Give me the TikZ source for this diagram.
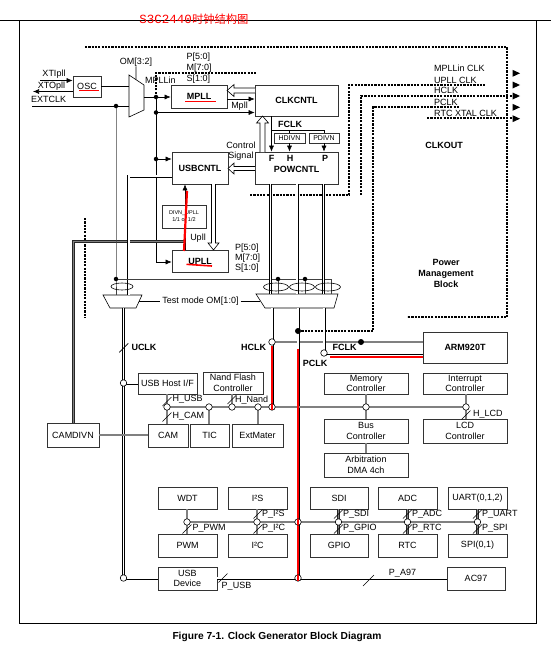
\documentclass[tikz,border=0pt]{standalone}
\usepackage{fontspec}
\setmainfont{Liberation Sans}
\newfontfamily\cjkfont{Noto Sans CJK SC}
\newfontfamily\titlemono{Liberation Mono}
\usetikzlibrary{arrows.meta,calc}
\begin{document}
\begin{tikzpicture}[x=1pt,y=-1pt,
  box/.style={draw=black!80, line width=0.7pt, fill=white, inner sep=0pt, align=center, font=\fontsize{9}{10.5}\selectfont},
  bbox/.style={box, font=\fontsize{9}{10.5}\selectfont\bfseries},
  lbl/.style={inner sep=0pt, align=center, font=\fontsize{9}{10.5}\selectfont},
  blbl/.style={inner sep=0pt, align=center, font=\fontsize{9}{10.7}\selectfont\bfseries},
  wire/.style={draw=black, line width=0.6pt},
  arr/.style={wire, -{Latex[length=6pt,width=5pt]}},
  gbus/.style={draw=black!85, line width=0.7pt, double=black!50, double distance=1.5pt},
  wbus/.style={draw=black, line width=0.7pt, double=white, double distance=1.6pt},
  pmdash/.style={draw=black, line width=1.1pt, dash pattern=on 2.2pt off 1.1pt},
  redl/.style={draw=red, line width=2pt},
  hol/.style={draw=black, line width=0.6pt, fill=white},
  hole/.style={circle, draw=black, fill=white, line width=0.6pt, inner sep=0pt, minimum size=6.5pt},
  jdot/.style={circle, fill=black, inner sep=0pt, minimum size=4.5pt},
  bigdot/.style={circle, fill=black, inner sep=0pt, minimum size=6pt},
  tickm/.style={draw=black, line width=0.6pt},
  frame/.style={draw=black, line width=0.8pt},
]
\useasboundingbox (0,0) rectangle (551,648);

% frame and title
\draw[frame] (0,20.5) -- (551,20.5);
\draw[frame] (19.5,20.5) -- (19.5,623) -- (536,623) -- (536,20.5);
\node[text=red, inner sep=0pt] (title) at (194,19.5) {\fontsize{12.5}{12}\titlemono S3C2440\fontsize{11.3}{12}\cjkfont 时钟结构图};
\node[font=\fontsize{10.2}{12}\selectfont\bfseries, inner sep=0pt] (cap) at (277,636.5) {Figure 7-1. Clock Generator Block Diagram};

% boxes
\node[box, minimum width=28pt, minimum height=21pt] (osc) at (87,86.5) {OSC};
\node[bbox, minimum width=56pt, minimum height=23pt] (mpll) at (199,96.5) {MPLL};
\node[bbox, minimum width=83pt, minimum height=31pt] (clkcntl) at (296.5,100.5) {CLKCNTL};
\node[box, font=\fontsize{7}{8}\selectfont, minimum width=31pt, minimum height=10pt] (hdivn) at (289.5,138) {HDIVN};
\node[box, font=\fontsize{7}{8}\selectfont, minimum width=30pt, minimum height=10pt] (pdivn) at (324,138) {PDIVN};
\node[box, minimum width=83pt, minimum height=32pt] (powcntl) at (296.5,168) {};
\node[bbox, minimum width=56pt, minimum height=32pt] (usbcntl) at (200,168) {USBCNTL};
\node[box, font=\fontsize{5.5}{7}\selectfont, minimum width=44pt, minimum height=23pt] (divn) at (184,216.5) {DIVN\_UPLL\\1/1 or 1/2};
\node[bbox, minimum width=56pt, minimum height=22pt] (upll) at (200,261) {UPLL};
\node[bbox, minimum width=84pt, minimum height=31pt] (arm) at (465,347.5) {ARM920T};
\node[box, minimum width=59pt, minimum height=21pt] (usbhost) at (167.5,383.5) {USB Host I/F};
\node[box, minimum width=60pt, minimum height=22pt] (nand) at (233,383) {Nand Flash\\Controller};
\node[box, minimum width=84pt, minimum height=21pt] (memc) at (366,383.5) {Memory\\Controller};
\node[box, minimum width=84pt, minimum height=21pt] (intc) at (465,383.5) {Interrupt\\Controller};
\node[box, minimum width=52pt, minimum height=24pt] (camdivn) at (73,435) {CAMDIVN};
\node[box, minimum width=40pt, minimum height=23pt] (cam) at (168,435.5) {CAM};
\node[box, minimum width=39pt, minimum height=23pt] (tic) at (209.5,435.5) {TIC};
\node[box, minimum width=51pt, minimum height=23pt] (extm) at (257.5,435.5) {ExtMater};
\node[box, minimum width=84pt, minimum height=24pt] (busc) at (366,431) {Bus\\Controller};
\node[box, minimum width=84pt, minimum height=24pt] (lcdc) at (465,431) {LCD\\Controller};
\node[box, minimum width=84pt, minimum height=24pt] (dma) at (366,465) {Arbitration\\DMA 4ch};
\node[box, minimum width=59pt, minimum height=22pt] (wdt) at (187.5,498) {WDT};
\node[box, minimum width=59pt, minimum height=22pt] (iis) at (257.5,498) {I²S};
\node[box, minimum width=58pt, minimum height=22pt] (sdi) at (339,498) {SDI};
\node[box, minimum width=59pt, minimum height=22pt] (adc) at (407.5,498) {ADC};
\node[box, minimum width=59pt, minimum height=22pt] (uart) at (477.5,498) {UART(0,1,2)};
\node[box, minimum width=59pt, minimum height=23pt] (pwm) at (187.5,545.5) {PWM};
\node[box, minimum width=59pt, minimum height=23pt] (iic) at (257.5,545.5) {I²C};
\node[box, minimum width=58pt, minimum height=23pt] (gpio) at (339,545.5) {GPIO};
\node[box, minimum width=59pt, minimum height=23pt] (rtc) at (407.5,545.5) {RTC};
\node[box, minimum width=59pt, minimum height=23pt] (spi) at (477.5,545.5) {SPI(0,1)};
\node[box, minimum width=59pt, minimum height=23pt] (usbdev) at (187.5,578.5) {USB\\Device};
\node[box, minimum width=58pt, minimum height=23pt] (ac97) at (476,578.5) {AC97};

% junction points
\coordinate (cu1) at (123.5,383);
\coordinate (cu2) at (123.5,578);
\coordinate (chclk) at (272,342);
\coordinate (cfclk) at (324,353);
\coordinate (ah1) at (167,407);
\coordinate (ah2) at (209,407);
\coordinate (ah3) at (232,407);
\coordinate (ah4) at (258,407);
\coordinate (ah5) at (272,407);
\coordinate (ah6) at (366,407);
\coordinate (ah7) at (466,407);
\coordinate (ap1) at (187,522);
\coordinate (ap2) at (257,522);
\coordinate (ap3) at (298,522);
\coordinate (ap4) at (338.5,522);
\coordinate (ap5) at (407.5,522);
\coordinate (ap6) at (477.5,522);
\coordinate (cusb) at (298,578);
\coordinate (d1) at (116,106);
\coordinate (d2) at (156,97);
\coordinate (d3) at (156,112.5);
\coordinate (d4) at (156,159);
\coordinate (d5) at (116,279);
\coordinate (d6) at (278,279);
\coordinate (d7) at (305,279);
\coordinate (d8) at (298,331);
\coordinate (d9) at (361,342);

% muxes
\coordinate (m1a) at (129,75); \coordinate (m1b) at (144,85);
\coordinate (m1c) at (144,110); \coordinate (m1d) at (129,117);
\draw[wire, fill=white] (m1a) -- (m1b) -- (m1c) -- (m1d) -- cycle;
\coordinate (m2a) at (103,295); \coordinate (m2b) at (142,295);
\coordinate (m2c) at (136,308); \coordinate (m2d) at (110,308);
\draw[wire, fill=white] (m2a) -- (m2b) -- (m2c) -- (m2d) -- cycle;
\coordinate (m3a) at (256,294); \coordinate (m3b) at (338,294);
\coordinate (m3c) at (334,308); \coordinate (m3d) at (265,308);
\draw[wire, fill=white] (m3a) -- (m3b) -- (m3c) -- (m3d) -- cycle;

% labels top-left
\node[lbl] (xti) at (54,74) {XTIpll};
\node[lbl] (xto) at (51.5,86) {XTOpll};
\node[lbl] (extl) at (48.7,99.5) {EXTCLK};
\node[lbl] (om32) at (136,62) {OM[3:2]};
\node[lbl, anchor=west] (mplin) at (145,80) {MPLLin};
\node[lbl, anchor=west] (pms1) at (186.5,57.3) {P[5:0]};
\node[lbl, anchor=west] (pms2) at (186.5,68.3) {M[7:0]};
\node[lbl, anchor=west] (pms3) at (186.5,79) {S[1:0]};
\node[lbl] (mplllbl) at (239.5,106.5) {Mpll};
\node[blbl] (fclk1) at (290,124) {FCLK};
\node[blbl] (pf) at (271.5,158.5) {F};
\node[blbl] (ph) at (290,158.5) {H};
\node[blbl] (pp) at (325,158.5) {P};
\node[blbl] (pw) at (296.5,169) {POWCNTL};
\node[lbl, font=\fontsize{9}{10}\selectfont] (ctl) at (241,151) {Control\\Signal};
\node[lbl] (upllbl) at (198,238) {Upll};
\node[lbl, anchor=west] (pmu1) at (235,248.3) {P[5:0]};
\node[lbl, anchor=west] (pmu2) at (235,258.3) {M[7:0]};
\node[lbl, anchor=west] (pmu3) at (235,268.3) {S[1:0]};
\node[lbl, inner xsep=2pt] (tm) at (200.5,301) {Test mode OM[1:0]};

% right side labels
\node[lbl, anchor=west] (o1) at (434,68.3) {MPLLin CLK};
\node[lbl, anchor=west] (o2) at (434,80) {UPLL CLK};
\node[lbl, anchor=west] (o3) at (434,90.7) {HCLK};
\node[lbl, anchor=west] (o4) at (434,102.7) {PCLK};
\node[lbl, anchor=west] (o5) at (434,113.3) {RTC XTAL CLK};
\node[blbl] (clkout) at (444,145) {CLKOUT};
\node[blbl] (pmb) at (446,273.3) {Power\\Management\\Block};

% clock labels
\node[blbl] (uclk) at (144,347.5) {UCLK};
\node[blbl] (hclk) at (253.5,347) {HCLK};
\node[blbl] (fclk2) at (344.5,347.7) {FCLK};
\node[blbl] (pclk) at (315,363) {PCLK};

% bus labels
\node[lbl, anchor=west] (lhusb) at (172.5,399) {H\_USB};
\node[lbl, anchor=west] (lhcam) at (172.5,416) {H\_CAM};
\node[lbl, anchor=west] (lhnand) at (235,400) {H\_Nand};
\node[lbl, anchor=west] (lhlcd) at (473,414) {H\_LCD};
\node[lbl, anchor=west] (lppwm) at (192.5,528) {P\_PWM};
\node[lbl, anchor=west] (lpiis) at (262,514) {P\_I²S};
\node[lbl, anchor=west] (lpiic) at (262,528) {P\_I²C};
\node[lbl, anchor=west] (lpsdi) at (343,514) {P\_SDI};
\node[lbl, anchor=west] (lpgpio) at (343,528) {P\_GPIO};
\node[lbl, anchor=west] (lpadc) at (412,514) {P\_ADC};
\node[lbl, anchor=west] (lprtc) at (412,528) {P\_RTC};
\node[lbl, anchor=west] (lpuart) at (482,514) {P\_UART};
\node[lbl, anchor=west] (lpspi) at (482,528) {P\_SPI};
\node[lbl] (lpusb) at (236.5,586) {P\_USB};
\node[lbl] (lpa97) at (402.5,573) {P\_A97};

% ---- power management dashed lines
\draw[pmdash] (85,47) -- (507,47) -- (507,317) -- (407,317);
\draw[pmdash] (85,218) -- (85,318);
\draw[pmdash] (d2) -- (156,73) -- (257,73);
\draw[pmdash] (250,195) -- (349,195) -- (349,85) -- (485,85);
\draw[pmdash] (361,195) -- (361,96) -- (512,96);
\draw[pmdash] (d8) -- (373,331) -- (373,107) -- (460,107);
\draw[pmdash] (427,118) -- (512,118);
\foreach \yy in {73.3,85,96,107.3,118.7}
  \fill (512.5,{\yy-3.5}) -- (520,\yy) -- (512.5,{\yy+3.5}) -- cycle;

% ---- oscillator inputs
\coordinate (xtiS) at (40,80.5);
\draw[arr] (xtiS) -- (xtiS -| osc.west);
\coordinate (xtoE) at (33,91.5);
\draw[arr] (xtoE -| osc.west) -- (xtoE);
\coordinate (extS) at (32,106);
\draw[wire] (extS) -- (extS -| m1a);
\draw[wire] (osc.east) -- (osc.east -| m1a);
\draw[wire] (om32.south) -- ($(m1a)!0.47!(m1b)$);

% ---- MPLL and control
\coordinate (m1o) at (144,97);
\draw[arr] (m1o) -- (m1o -| mpll.west);
\coordinate (uc) at (156,262);
\draw[arr] (d2) -- (uc) -- (uc -| upll.west);
\draw[arr] (d3) -- (d3 -| clkcntl.west);
\draw[arr] (d4) -- (d4 -| usbcntl.west);
\coordinate (mp) at (227,99);
\draw[arr] (mpll.east |- mp) -- (clkcntl.west |- mp);

% hollow arrows
\draw[hol] (255,88) -- (234,88) -- (234,84.5) -- (227,90.5) -- (234,96.5) -- (234,93) -- (255,93);
\draw[hol] (260,152) -- (260,123) -- (256.5,123) -- (262.5,116) -- (268.5,123) -- (265,123) -- (265,152);
\draw[hol] (255,166.5) -- (234,166.5) -- (234,163) -- (228,168.5) -- (234,174) -- (234,170.5) -- (255,170.5);
\draw[hol] (211.5,184) -- (211.5,243) -- (208,243) -- (213.5,250) -- (219,243) -- (215.5,243) -- (215.5,184);

% FCLK / dividers
\coordinate (fT) at (271.5,116); \coordinate (fM) at (271.5,130); \coordinate (pM) at (324,130);
\draw[arr] (fT) -- (fT |- powcntl.north);
\draw[wire] (fM) -- (pM) -- (pdivn.north);
\draw[wire] (hdivn.north |- fM) -- (hdivn.north);
\draw[arr] (hdivn.south) -- (hdivn.south |- powcntl.north);
\draw[arr] (pdivn.south) -- (pdivn.south |- powcntl.north);

% UPLL output
\coordinate (uU) at (185,250);
\draw[arr] (uU) -- (uU |- usbcntl.south);
\coordinate (up1) at (184,241.5); \coordinate (up2) at (73.5,241.5);
\draw[gbus] (up1) -- (up2) -- (up2 |- camdivn.north);
\coordinate (ul) at (128.8,176);
\draw[wbus] (usbcntl.west |- ul) -- (ul) -- (128.8,295);

% EXTCLK bypass
\draw[wire, draw=black!75] (d1) -- (d5) -- (116,295);
\coordinate (e3) at (331,279);
\draw[wire, draw=black!75] (d5) -- (e3) -- (331,294);
\draw[wire, draw=black!75] (d6) -- (278,294);
\draw[wire, draw=black!75] (d7) -- (305,294);

% POWCNTL outputs into test mux
\draw[wbus] (270.5,184) -- (270.5,294);
\draw[wbus] (297,184) -- (297,294);
\draw[wbus] (323.5,184) -- (323.5,294);

% ellipses
\draw[wire] (122,286.5) ellipse [x radius=11pt, y radius=3.5pt];
\draw[wire] (276,287) ellipse [x radius=12.5pt, y radius=4pt];
\draw[wire] (302,287) ellipse [x radius=12.5pt, y radius=4pt];
\draw[wire] (328,287) ellipse [x radius=12.5pt, y radius=4pt];

% test mode label lines
\draw[wire] (139,301) -- (tm.west);
\draw[wire] (tm.east) -- (259.5,301);

% clocks below the muxes
\coordinate (ucT) at (123.5,308);
\draw[wbus] (ucT) -- (cu2);
\draw[wbus] (cu1) -- (cu1 -| usbhost.west);
\coordinate (hT) at (272,308);
\draw[wbus] (hT) -- (ah5);
\draw[gbus] (chclk) -- (chclk -| arm.west);
\coordinate (pT) at (298,308);
\draw[wbus] (pT) -- (cusb);
\coordinate (fT2) at (324,308);
\draw[wbus] (fT2) -- (cfclk);
\draw[wbus] (cfclk) -- (cfclk -| arm.west);

% AHB bus
\draw[gbus] (ah1) -- (ah7);
\draw[gbus] (ah1 |- usbhost.south) -- (ah1 |- cam.north);
\draw[gbus] (ah2) -- (ah2 |- tic.north);
\draw[gbus] (ah3 |- nand.south) -- (ah3);
\draw[gbus] (ah4) -- (ah4 |- extm.north);
\draw[gbus] (ah6 |- memc.south) -- (ah6 |- busc.north);
\draw[gbus] (busc.south) -- (dma.north);
\draw[gbus] (ah7 |- intc.south) -- (ah7 |- lcdc.north);
\draw[gbus] (camdivn.east) -- (camdivn.east -| cam.west);

% APB bus
\draw[gbus] (ap1) -- (ap6);
\draw[gbus] (ap1 |- wdt.south) -- (ap1 |- pwm.north);
\draw[gbus] (ap2 |- iis.south) -- (ap2 |- iic.north);
\draw[gbus] (ap4 |- sdi.south) -- (ap4 |- gpio.north);
\draw[gbus] (ap5 |- adc.south) -- (ap5 |- rtc.north);
\draw[gbus] (ap6 |- uart.south) -- (ap6 |- spi.north);
\draw[wbus] (cu2) -- (cu2 -| usbdev.west);
\draw[wbus] (usbdev.east |- cusb) -- (cusb);
\draw[wbus] (cusb) -- (cusb -| ac97.west);

% tick marks
\foreach \tx/\ty in {123.8/347.8, 167/401.5, 167/417, 232/399.5, 466/415,
  187/529, 258/514, 258/529, 338.5/514, 338.5/529, 407.5/514, 407.5/529,
  477.5/514, 477.5/529, 223/578}
  \draw[tickm] (\tx,\ty) ++(-4.5,4.5) -- ++(9,-9);
\draw[tickm] (363,586) -- (374,575);

% red marks
\draw[red, line width=1.6pt] (79.3,90.5) -- (99.3,90.5);
\draw[red, line width=1.6pt] (185,101.5) -- (216,101.5);
\draw[red, line width=1.6pt] (186.5,264.3) -- (212,266);
\draw[redl, line width=2.2pt] (184,251) -- (187,191);
\draw[redl] (272,346) -- (272,404);
\draw[redl] (298,349) -- (298,581);
\draw[redl] (330,357) -- (423,357);

% junction marks (drawn last)
\foreach \c in {cu1,cu2,chclk,cfclk,ah1,ah2,ah3,ah4,ah5,ah6,ah7,ap1,ap2,ap3,ap4,ap5,ap6,cusb}
  \node[hole] (h-\c) at (\c) {};
\foreach \c in {d1,d2,d3,d4,d5,d6,d7}
  \node[jdot] (j-\c) at (\c) {};
\node[bigdot] (j-d8) at (d8) {};
\node[bigdot] (j-d9) at (d9) {};
\draw[redl] (ah5) ++(0,-3) -- ++(0,6);
\draw[redl] (ap3) ++(0,-3) -- ++(0,6);
\draw[redl] (cusb) ++(0,-3) -- ++(0,6);
\end{tikzpicture}
\end{document}
